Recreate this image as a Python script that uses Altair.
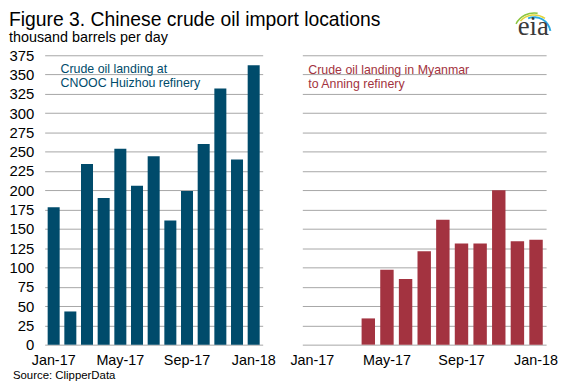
import altair as alt
import pandas as pd

months = ["Jan-17", "Feb-17", "Mar-17", "Apr-17", "May-17", "Jun-17", "Jul-17",
          "Aug-17", "Sep-17", "Oct-17", "Nov-17", "Dec-17", "Jan-18"]
huizhou = [178, 43, 234, 190, 254, 206, 244, 161, 199, 260, 332, 240, 362]
myanmar = [None, None, None, 34, 97, 85, 121, 162, 131, 131, 200, 134, 136]
tick_labels = ["Jan-17", "May-17", "Sep-17", "Jan-18"]
y_ticks = list(range(0, 376, 25))

FONT = "Liberation Sans"
BLUE = "#004b6b"
RED = "#a33340"
GRID = "#a6a6a6"

df_left = pd.DataFrame({"month": months, "value": huizhou})
df_right = pd.DataFrame({"month": months, "value": myanmar}).dropna()

xscale = alt.Scale(domain=months, paddingInner=0.28, paddingOuter=0.18)
yscale = alt.Scale(domain=[0, 375], nice=False)

def xaxis():
    return alt.Axis(values=tick_labels, title=None, labelAngle=0, labelFontSize=14.5,
                    labelFont=FONT, labelColor="black", ticks=False, domain=False,
                    grid=False, labelPadding=9)

PW_L, PW_R, PH = 220, 246, 292
one = alt.Data(values=[{}])

def txt(text, x, y, size, color="black", font=FONT, align="left", **kw):
    return alt.Chart(one).mark_text(
        text=text, align=align, baseline="alphabetic", fontSize=size,
        font=font, color=color, **kw
    ).encode(x=alt.value(x), y=alt.value(y))

left_bars = alt.Chart(df_left).mark_bar(color=BLUE).encode(
    x=alt.X("month:N", sort=months, scale=xscale, axis=xaxis()),
    y=alt.Y("value:Q", scale=yscale,
            axis=alt.Axis(values=y_ticks, title=None, labelFontSize=15, labelFont=FONT,
                          labelColor="black", ticks=False, domain=False, grid=True,
                          gridColor=GRID, labelPadding=11)),
)
left = alt.layer(
    left_bars,
    txt("Figure 3. Chinese crude oil import locations", -36, -30, 19.5),
    txt("thousand barrels per day", -36, -13, 14.5),
    txt(["Crude oil landing at", "CNOOC Huizhou refinery"], 16, 18, 12.5,
        color=BLUE, lineHeight=14),
    txt("Source: ClipperData", -32, 327, 11.5),
).properties(width=PW_L, height=PH)

right_bars = alt.Chart(df_right).mark_bar(color=RED).encode(
    x=alt.X("month:N", sort=months, scale=xscale, axis=xaxis()),
    y=alt.Y("value:Q", scale=yscale,
            axis=alt.Axis(values=y_ticks, title=None, labels=False, ticks=False,
                          domain=False, grid=True, gridColor=GRID)),
)

def arc(r1, r2, t1, t2, color):
    return alt.Chart(one).mark_arc(
        radius=r1, radius2=r2, theta=t1, theta2=t2, color=color
    ).encode(x=alt.value(234), y=alt.value(-22))

right = alt.layer(
    right_bars,
    txt(["Crude oil landing in Myanmar", "to Anning refinery"], 6, 19, 12.5,
        color=RED, lineHeight=14),
    arc(21.5, 20, 5.2, 6.45, "#8dc63f"),
    arc(19.5, 18, 5.45, 6.9, "#e3d53a"),
    arc(17.5, 15.5, 5.9, 7.7, "#29a9e0"),
    txt("eia", 233, -20, 27, color="#3a3a3a", font="Liberation Serif", align="center"),
).properties(width=PW_R, height=PH)

chart = alt.hconcat(left, right, spacing=40, padding=0, bounds="flush").configure_view(
    stroke=None).resolve_scale(y="independent")

chart.save("out.html", embed_options={"renderer": "svg", "actions": False})
